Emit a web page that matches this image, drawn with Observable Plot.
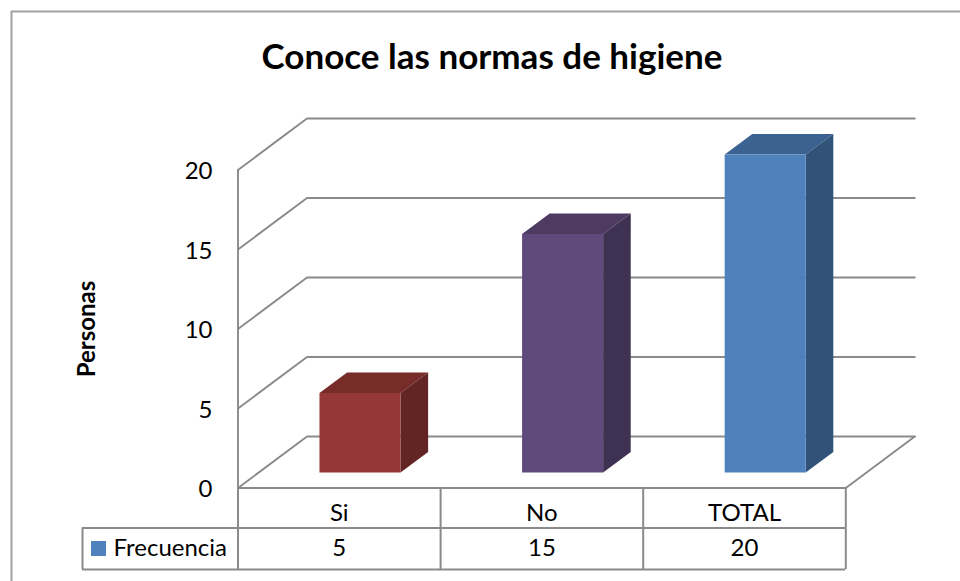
<!DOCTYPE html>
<html>
<head>
<meta charset="utf-8">
<script src="https://cdn.jsdelivr.net/npm/d3@7"></script>
<script src="https://cdn.jsdelivr.net/npm/@observablehq/plot@0.6"></script>
<style>
html,body{margin:0;padding:0;background:#fff}
svg{display:block}
</style>
</head>
<body>
<div id="chart"></div>
<script>
const chartTitle = "Conoce las normas de higiene";
const yAxisTitle = "Personas";
const seriesName = "Frecuencia";
const categories = ["Si", "No", "TOTAL"];
const values = [5, 15, 20];
const yTicks = [0, 5, 10, 15, 20];
const frontColors = ["#953735", "#604a7b", "#4f81bd"];
const topColors = ["#772c2a", "#4d3b62", "#3b6290"];
const sideColors = ["#632523", "#3f3151", "#31537a"];

const W = 960, H = 581;
// Scale calibration: one category = 202.6 px, one y unit = 15.9 px
const pxPerCat = 202.6, pxPerUnit = 15.9, originX = 237.5, originY = 487.5;
// 3D projection, in data units: depth 0 = front of floor, 1 = back wall
const depthX = 69 / pxPerCat, depthY = 51.5 / pxPerUnit;
const P = (c, v, d = 0) => ({x: c + d * depthX, y: v + d * depthY});
const barHalf = 0.2, barD0 = 0.3, barD1 = 0.7;
const n = categories.length;

// Walls and gridlines
const grid = yTicks.flatMap(t => [
  {t, ...P(0, t, 0)}, {t, ...P(0, t, 1)}, {t, ...P(n, t, 1)}
]);
const floorRight = [P(n, 0, 0), P(n, 0, 1)];

// Bar faces
const faces = values.flatMap((v, i) => {
  const a = i + 0.5 - barHalf, b = i + 0.5 + barHalf;
  const face = (name, color, pts) => pts.map(p => ({face: categories[i] + name, color, ...p}));
  return [
    face("top", topColors[i], [P(a, v, barD0), P(b, v, barD0), P(b, v, barD1), P(a, v, barD1)]),
    face("side", sideColors[i], [P(b, 0, barD0), P(b, v, barD0), P(b, v, barD1), P(b, 0, barD1)]),
    face("front", frontColors[i], [P(a, 0, barD0), P(b, 0, barD0), P(b, v, barD0), P(a, v, barD0)])
  ];
}).flat();

// Data table under the axis, in axis units
const row1 = -40 / pxPerUnit, row2 = -81.5 / pxPerUnit;
const tableLeft = -155.5 / pxPerCat;
const row1Mid = -25.5 / pxPerUnit, row2Mid = -60.5 / pxPerUnit;
const seps = d3.range(n + 1);
const labelX = -25.5 / pxPerCat;
const ink = "#000";
const lineColor = "#8a8a8a";
const font = "Lato, Carlito, sans-serif";

const plot = Plot.plot({
  width: W, height: H,
  marginTop: 0, marginRight: 0, marginBottom: 0, marginLeft: 0,
  style: {background: "#fff", fontFamily: font},
  x: {axis: null, type: "linear", domain: [-originX / pxPerCat, (W - originX) / pxPerCat], range: [0, W]},
  y: {axis: null, type: "linear", domain: [(originY - H) / pxPerUnit, originY / pxPerUnit], range: [H, 0]},
  color: {type: "identity"},
  marks: [
    // Outer chart border: left and top only
    Plot.line([{x: -226.5 / pxPerCat, y: (originY - H) / pxPerUnit}, {x: -226.5 / pxPerCat, y: (originY - 11) / pxPerUnit}, {x: (W - originX) / pxPerCat, y: (originY - 11) / pxPerUnit}],
      {x: "x", y: "y", stroke: "#a0a0a0", strokeWidth: 2}),
    // Gridlines and walls
    Plot.line(grid, {x: "x", y: "y", z: "t", stroke: lineColor, strokeWidth: 1.9}),
    Plot.line(floorRight, {x: "x", y: "y", stroke: lineColor, strokeWidth: 1.9}),
    Plot.ruleX([0], {y1: 0, y2: 20, stroke: lineColor, strokeWidth: 1.9}),
    // Bars
    Plot.line(faces, {x: "x", y: "y", z: "face", fill: "color", stroke: "none"}),
    // Axis tick labels and title
    Plot.text(yTicks, {x: () => labelX, y: d => d - 0.1, text: d => String(d), textAnchor: "end", fontSize: 24, fill: ink}),
    Plot.text([yAxisTitle], {x: () => -151 / pxPerCat, y: () => 10, text: d => d, rotate: -90, fontSize: 24, fontWeight: 700, fill: ink}),
    Plot.text([chartTitle], {x: () => 254 / pxPerCat, y: () => (originY - 57) / pxPerUnit, text: d => d, fontSize: 35, fontWeight: 700, fill: ink}),
    // Data table
    Plot.ruleY([0], {x1: 0, x2: n, stroke: lineColor, strokeWidth: 2}),
    Plot.ruleY([row1, row2], {x1: tableLeft, x2: n, stroke: lineColor, strokeWidth: 2}),
    Plot.ruleX(seps, {y1: row2, y2: 0, stroke: lineColor, strokeWidth: 2}),
    Plot.ruleX([tableLeft], {y1: row2, y2: row1, stroke: lineColor, strokeWidth: 2}),
    Plot.text(categories, {x: (d, i) => i + 0.5, y: () => row1Mid, text: d => d, fontSize: 24, fill: ink}),
    Plot.text(values, {x: (d, i) => i + 0.5, y: () => row2Mid, text: d => String(d), fontSize: 24, fill: ink}),
    Plot.rect([seriesName], {x1: () => -146.5 / pxPerCat, x2: () => -131.5 / pxPerCat, y1: () => -53.5 / pxPerUnit, y2: () => -68.5 / pxPerUnit, fill: () => frontColors[2]}),
    Plot.text([seriesName], {x: () => -124.5 / pxPerCat, y: () => row2Mid, text: d => d, textAnchor: "start", fontSize: 24, fill: ink})
  ]
});
document.getElementById("chart").appendChild(plot);
</script>
</body>
</html>
